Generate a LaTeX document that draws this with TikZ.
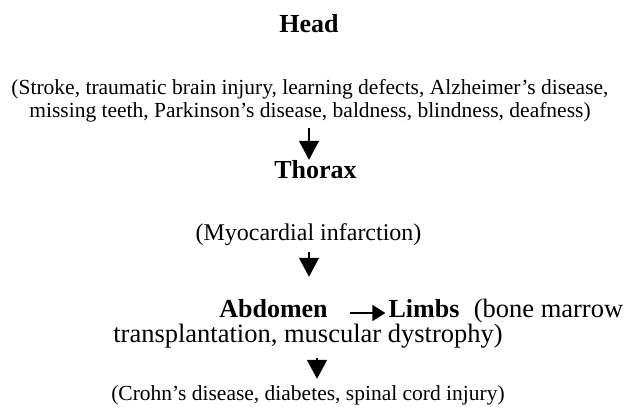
\documentclass[tikz,border=0pt]{standalone}
\usepackage{fontspec}
\setmainfont{Liberation Serif}
\usepackage{tikz}
\usetikzlibrary{positioning, arrows.meta, calc}
\tikzset{
  region/.style={inner sep=0pt, font=\fontsize{26}{28}\selectfont\bfseries},
  disease/.style={inner sep=0pt, align=center, font=\fontsize{#1}{23}\selectfont},
  disease/.default=24,
  arrow/.style={line width=1.3pt, -{Triangle[width=20pt,length=19pt]}},
  sidearrow/.style={line width=1.3pt, -{Triangle[width=16pt,length=13pt]}}
}
\begin{document}
\begin{tikzpicture}[x=1pt,y=-1pt]
        % Marco fijo del dibujo
        \useasboundingbox (0,0) rectangle (627,407);

        % Regiones del cuerpo y sus enfermedades
        \node (head) [region, anchor=base] at (309,32) {Head};
        \node (headdis) [disease=21.5, anchor=base] at (310,117)
            {(Stroke, traumatic brain injury, learning defects, Alzheimer's disease,\\
             missing teeth, Parkinson's disease, baldness, blindness, deafness)};
        \node (thorax) [region, anchor=base] at (315.5,178) {Thorax};
        \node (thoraxdis) [disease, anchor=base] at (308.5,240) {(Myocardial infarction)};
        \node (abdomen) [region, anchor=base] at (273.5,317) {Abdomen};
        \node (limbs) [region, anchor=base] at (424,317) {Limbs};
        \node (limbsdis) [disease=26.5, anchor=base] at (548.5,317) {(bone marrow};
        \node (limbsdis2) [disease=26.5, anchor=base] at (308,342) {transplantation, muscular dystrophy)};
        \node (abdomendis) [disease=21.5, anchor=base] at (308,400) {(Crohn's disease, diabetes, spinal cord injury)};

        % Flechas entre regiones
        \draw [arrow, shorten <=6pt] ([xshift=-1pt]headdis.south) -- ([xshift=-1pt]headdis.south |- thorax.north);
        \draw [arrow, shorten <=7pt, shorten >=22pt] ([xshift=0.5pt]thoraxdis.south) -- ([xshift=0.5pt]thoraxdis.south |- abdomen.north);
        \draw [sidearrow] ([xshift=22pt,yshift=4pt]abdomen.base east) -- ([xshift=-3pt,yshift=4pt]limbs.base west);
        \draw [arrow, shorten <=10pt, shorten >=6pt] ([xshift=9pt]limbsdis2.south) -- ([xshift=9pt]limbsdis2.south |- abdomendis.north);
    \end{tikzpicture}
\end{document}
